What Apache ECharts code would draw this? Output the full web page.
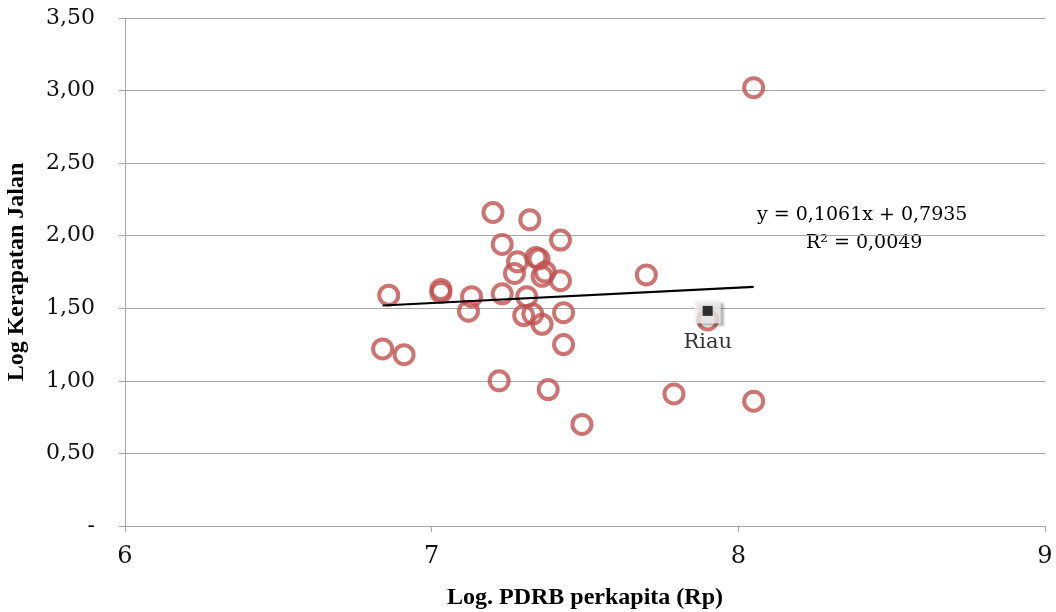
<!DOCTYPE html>
<html>
<head>
<meta charset="utf-8">
<script src="https://cdn.jsdelivr.net/npm/echarts@6/dist/echarts.min.js"></script>
<style>
  html, body { margin: 0; padding: 0; background: #fff; }
  #chart { width: 1056px; height: 612px; }
</style>
</head>
<body>
<div id="chart"></div>
<script>
// Log PDRB perkapita (x) dan Log Kerapatan Jalan (y) per provinsi
var logPdrb = [
  6.84, 6.86, 6.91, 7.03, 7.03, 7.12, 7.13, 7.20, 7.23, 7.22, 7.23,
  7.27, 7.28, 7.32, 7.30, 7.31, 7.33, 7.34, 7.35, 7.36, 7.37, 7.36,
  7.38, 7.42, 7.42, 7.43, 7.43, 7.49, 7.70, 7.79, 8.05, 8.05
];
var logKerapatan = [
  1.22, 1.59, 1.18, 1.63, 1.61, 1.48, 1.58, 2.16, 1.94, 1.00, 1.60,
  1.74, 1.82, 2.11, 1.45, 1.58, 1.46, 1.85, 1.84, 1.72, 1.75, 1.39,
  0.94, 1.97, 1.69, 1.47, 1.25, 0.70, 1.73, 0.91, 3.02, 0.86
];
// titik Riau (ditandai)
var riau = [7.90, 1.42];

// garis tren linear dari Excel
var slope = 0.1061;
var intercept = 0.7935;
var eqText = 'y = 0,1061x + 0,7935';
var r2Text = 'R² = 0,0049';

var yTicks = [0, 0.5, 1, 1.5, 2, 2.5, 3, 3.5];

var points = logPdrb.map(function (x, i) { return [x, logKerapatan[i]]; });
points.push(riau);

var xs = points.map(function (p) { return p[0]; });
var xMin = Math.min.apply(null, xs);
var xMax = Math.max.apply(null, xs);
var trend = [
  [xMin, slope * xMin + intercept],
  [xMax, slope * xMax + intercept]
];

var chart = echarts.init(document.getElementById('chart'));
var gray = '#a6a6a6';
var serif = 'DejaVu Serif';

chart.setOption({
  animation: false,
  backgroundColor: '#fff',
  grid: { left: 125, right: 11, top: 18, bottom: 86, containLabel: false, outerBoundsMode: 'none' },
  xAxis: {
    type: 'value',
    min: 6,
    max: 9,
    interval: 1,
    name: 'Log. PDRB perkapita (Rp)',
    nameLocation: 'middle',
    nameGap: 60,
    nameTextStyle: { fontFamily: 'Liberation Serif', fontWeight: 'bold', fontSize: 24, color: '#000' },
    axisLine: { show: true, lineStyle: { color: gray, width: 1 } },
    axisTick: { show: true, length: 6, lineStyle: { color: gray } },
    axisLabel: { margin: 19, fontFamily: serif, fontSize: 24, color: '#111' },
    splitLine: { show: false }
  },
  yAxis: {
    type: 'value',
    min: 0,
    max: 3.5,
    interval: 0.5,
    name: 'Log Kerapatan Jalan',
    nameLocation: 'middle',
    nameGap: 96,
    nameTextStyle: { fontFamily: 'Liberation Serif', fontWeight: 'bold', fontSize: 24, color: '#000' },
    axisLine: { show: true, lineStyle: { color: gray, width: 1 } },
    axisTick: { show: true, length: 6, lineStyle: { color: gray } },
    axisLabel: {
      margin: 30,
      fontFamily: serif,
      fontSize: 22,
      color: '#111',
      formatter: function (v) {
        if (yTicks.indexOf(v) < 0) return '';
        return v === 0 ? '-' : v.toFixed(2).replace('.', ',');
      }
    },
    splitLine: { show: true, lineStyle: { color: gray, width: 1 } }
  },
  series: [
    {
      type: 'scatter',
      data: points,
      symbol: 'circle',
      symbolSize: 19,
      itemStyle: { color: 'rgba(0,0,0,0)', borderColor: '#C0504D', borderWidth: 4 },
      z: 2
    },
    {
      type: 'line',
      data: trend,
      symbol: 'none',
      lineStyle: { color: '#000', width: 2.2 },
      z: 3
    },
    {
      type: 'scatter',
      data: [riau],
      symbol: 'rect',
      symbolSize: [26, 23],
      symbolOffset: [0, -8],
      itemStyle: {
        color: '#efefef',
        shadowColor: 'rgba(0,0,0,0.35)',
        shadowBlur: 2,
        shadowOffsetX: 3,
        shadowOffsetY: 3
      },
      label: {
        show: true,
        position: 'bottom',
        distance: 9,
        formatter: 'Riau',
        fontFamily: serif,
        fontSize: 21,
        color: '#000'
      },
      emphasis: { disabled: true },
      z: 4
    },
    {
      type: 'scatter',
      data: [riau],
      symbol: 'rect',
      symbolSize: 10,
      symbolOffset: [0, -9],
      itemStyle: { color: '#000' },
      z: 5
    }
  ],
  graphic: [
    {
      type: 'text',
      left: 757,
      top: 206,
      style: { text: eqText, fontFamily: serif, fontSize: 19, fill: '#000' }
    },
    {
      type: 'text',
      left: 806,
      top: 234,
      style: { text: r2Text, fontFamily: serif, fontSize: 19, fill: '#000' }
    }
  ]
});
</script>
</body>
</html>
